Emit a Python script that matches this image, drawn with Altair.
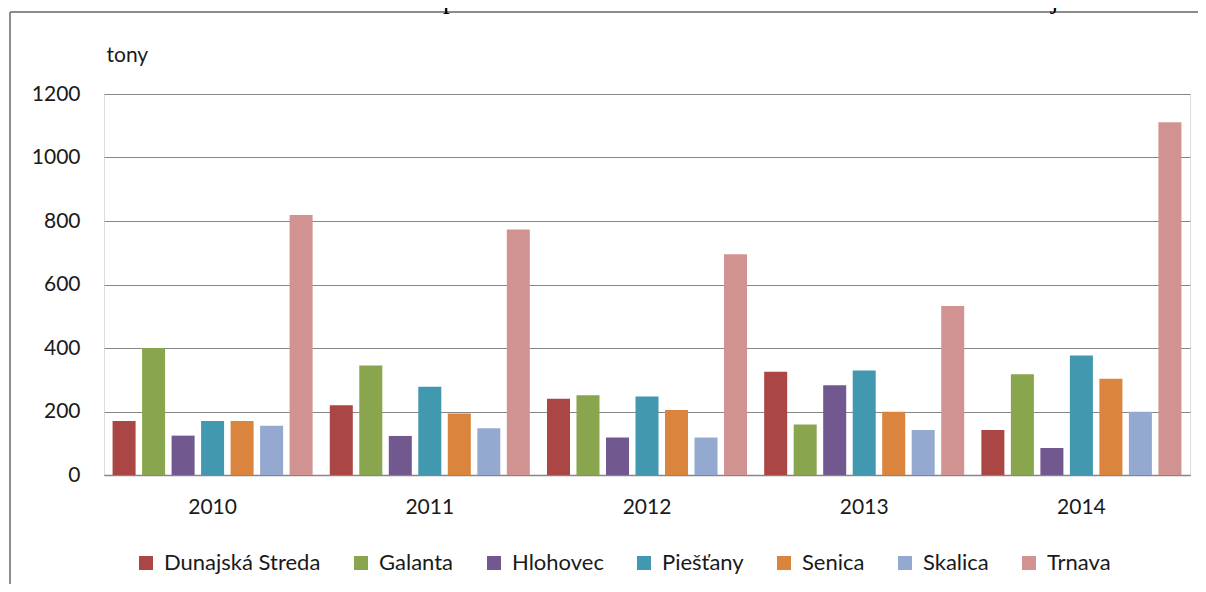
import altair as alt
import pandas as pd

years = ["2010", "2011", "2012", "2013", "2014"]
districts = ["Dunajská Streda", "Galanta", "Hlohovec", "Piešťany", "Senica", "Skalica", "Trnava"]
colors = ["#AA4643", "#89A54E", "#71588F", "#4198AF", "#DB843D", "#93A9CF", "#D19392"]

dunajska_streda = [170, 220, 240, 325, 142]
galanta = [400, 345, 251, 159, 317]
hlohovec = [124, 123, 118, 283, 85]
piestany = [170, 278, 247, 329, 376]
senica = [170, 194, 205, 199, 303]
skalica = [155, 147, 118, 142, 199]
trnava = [819, 773, 695, 532, 1111]

series = [dunajska_streda, galanta, hlohovec, piestany, senica, skalica, trnava]
y_ticks = [0, 200, 400, 600, 800, 1000, 1200]
title_text = "Graf č. 12: Porovnanie vzniku elektoodpadov v rokoch 2010 – 2014 v okresoch Trnavského kraja"

rows = []
for d, vals in zip(districts, series):
    for yr, v in zip(years, vals):
        rows.append({"year": yr, "district": d, "value": v})
df = pd.DataFrame(rows)

FONT = "Lato"

bars = alt.Chart(df).mark_bar().encode(
    x=alt.X("year:N", sort=years,
            scale=alt.Scale(paddingInner=0.079, paddingOuter=0.0395),
            axis=alt.Axis(title=None, labelAngle=0, ticks=False, domainColor="#868686",
                          domainWidth=1.5, labelFont=FONT, labelFontSize=21,
                          labelColor="#1a1a1a", labelPadding=21)),
    xOffset=alt.XOffset("district:N", sort=districts,
                        scale=alt.Scale(domain=districts, paddingInner=0.22, paddingOuter=0.0)),
    y=alt.Y("value:Q", scale=alt.Scale(domain=[0, 1200], nice=False),
            axis=alt.Axis(values=y_ticks, format="d", title="tony", titleAngle=0,
                          titleAlign="left", titleBaseline="middle", titleX=2, titleY=-39,
                          titleFont=FONT, titleFontSize=21, titleFontWeight="normal",
                          titleColor="#1a1a1a", domain=False, ticks=False, grid=True,
                          gridColor="#868686", gridWidth=1, labelFont=FONT,
                          labelFontSize=21, labelColor="#1a1a1a", labelPadding=24)),
    color=alt.Color("district:N", scale=alt.Scale(domain=districts, range=colors),
                    legend=alt.Legend(orient="none", legendX=31, legendY=458,
                                      direction="horizontal", title=None,
                                      symbolType="square", symbolSize=196,
                                      symbolStrokeWidth=0, labelFont=FONT,
                                      labelFontSize=22, labelColor="#1a1a1a",
                                      labelOffset=7, columnPadding=29, labelLimit=300)),
)

one = pd.DataFrame({"a": [0]})
frame_left = alt.Chart(one).mark_rule(color="#8c8c8c", strokeWidth=2).encode(
    x=alt.value(-94), y=alt.value(-82), y2=alt.value(600))
frame_top = alt.Chart(one).mark_rule(color="#8c8c8c", strokeWidth=2).encode(
    x=alt.value(-94), x2=alt.value(1150), y=alt.value(-82))
title = alt.Chart(one).mark_text(font="Liberation Serif", fontSize=27, align="left",
                                 baseline="alphabetic", color="black").encode(
    x=alt.value(-87), y=alt.value(-86), text=alt.value(title_text))

chart = alt.layer(bars, frame_left, frame_top, title).properties(
    width=1086, height=381,
    autosize=alt.AutoSizeParams(type="none"),
    padding={"left": 96, "top": 86, "right": 8, "bottom": 109},
).configure_view(stroke=None).configure(background="white")

chart.save("out.html", embed_options={"renderer": "svg", "actions": False})
